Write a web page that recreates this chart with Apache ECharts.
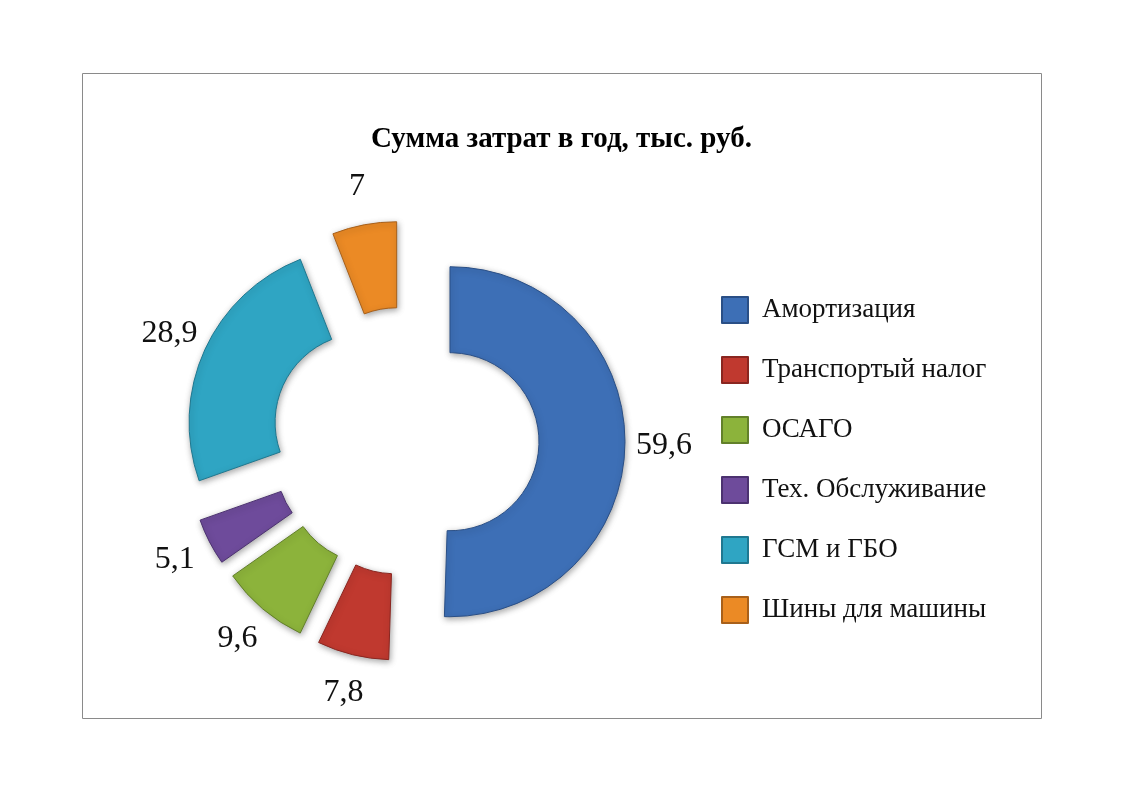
<!DOCTYPE html>
<html><head><meta charset="utf-8">
<script src="https://cdn.jsdelivr.net/npm/echarts@6/dist/echarts.min.js"></script>
<style>html,body{margin:0;padding:0;background:#fff}#c{width:1123px;height:794px}</style>
</head><body><div id="c"></div>
<script>
const titleText = 'Сумма затрат в год, тыс. руб.';
const categories = ['Амортизация', 'Транспортый налог', 'ОСАГО', 'Тех. Обслуживание', 'ГСМ и ГБО', 'Шины для машины'];
const values = [59.6, 7.8, 9.6, 5.1, 28.9, 7];
const colors = ['#3d6fb6', '#c0392f', '#8cb33b', '#6e4b9b', '#2fa5c3', '#eb8a25'];
const borders = ['#2a4f86', '#8a2620', '#62802a', '#4c3270', '#1f7890', '#a8601a'];

const FONT = '"Liberation Serif", "DejaVu Serif", serif';
const fmt = v => String(v).replace('.', ',');

const mainData = categories.map((n, i) => ({
  name: n, value: values[i], selected: true,
  itemStyle: { color: colors[i], borderColor: borders[i] }
}));
const labelData = categories.map((n, i) => ({ name: n, value: values[i], selected: true }));

const chart = echarts.init(document.getElementById('c'), null, { renderer: 'canvas' });
chart.setOption({
  animation: false,
  backgroundColor: '#fff',
  title: {
    text: titleText, left: 'center', top: 120,
    textStyle: { fontFamily: FONT, fontSize: 29, fontWeight: 'bold', color: '#000' }
  },
  graphic: [{
    type: 'rect', shape: { x: 82.5, y: 73.5, width: 959, height: 645 },
    style: { fill: 'none', stroke: '#8a8a8a', lineWidth: 1 }, silent: true
  }],
  legend: {
    orient: 'vertical', left: 721, top: 296, padding: 0,
    itemWidth: 26, itemHeight: 26, itemGap: 32, icon: 'rect',
    selectedMode: false,
    data: categories,
    textStyle: { fontFamily: FONT, fontSize: 27, lineHeight: 26, color: '#111', padding: [0, 0, 0, 9] }
  },
  series: [{
    type: 'pie', name: 'main',
    center: [405, 441], radius: [89, 175],
    startAngle: 90, clockwise: true,
    selectedMode: 'multiple', selectedOffset: 45,
    avoidLabelOverlap: false,
    label: { show: false }, labelLine: { show: false },
    emphasis: { disabled: true },
    itemStyle: { borderWidth: 1, shadowBlur: 6, shadowColor: 'rgba(0,0,0,0.35)', shadowOffsetX: 1, shadowOffsetY: 2 },
    data: mainData
  }, {
    type: 'pie', name: 'labels', silent: true,
    center: [405, 441], radius: [193, 229],
    startAngle: 90, clockwise: true,
    selectedMode: 'multiple', selectedOffset: 45,
    avoidLabelOverlap: false,
    itemStyle: { color: 'rgba(0,0,0,0)' },
    emphasis: { disabled: true },
    labelLine: { show: false },
    label: {
      show: true, position: 'inside', rotate: 0, offset: [0, 6],
      formatter: p => fmt(p.value),
      fontFamily: FONT, fontSize: 32, color: '#111'
    },
    data: labelData
  }]
});
</script></body></html>
